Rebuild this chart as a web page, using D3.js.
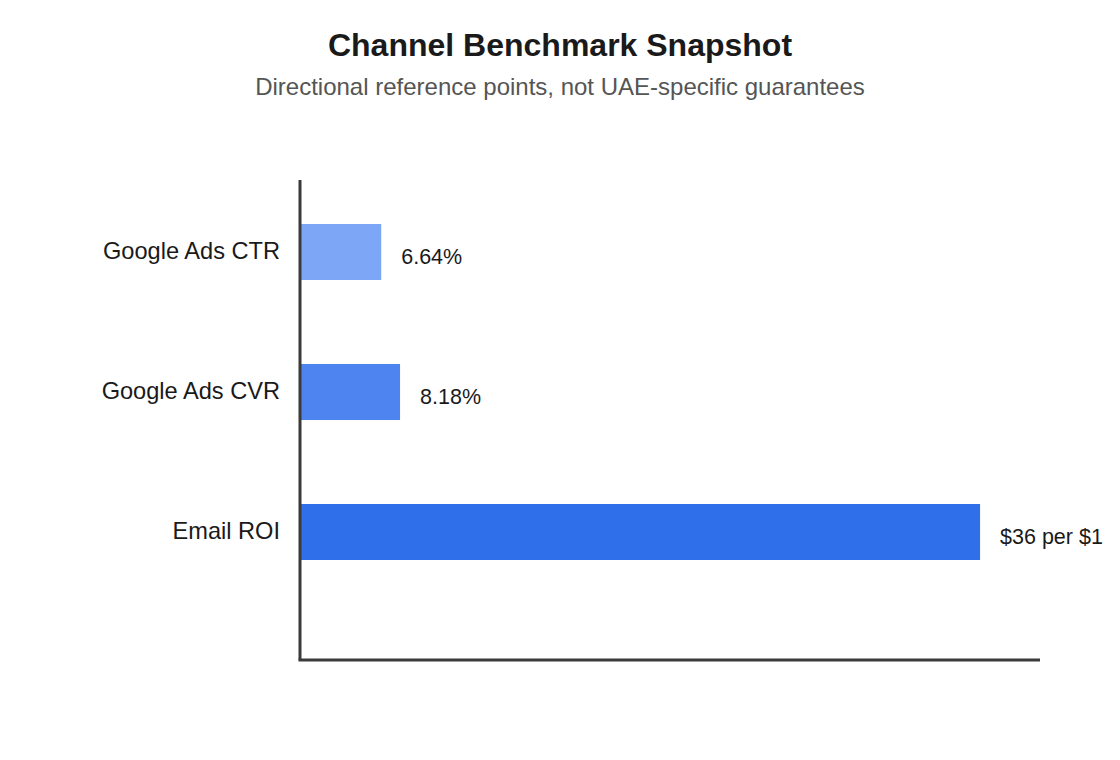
<!DOCTYPE html>
<html>
<head>
<meta charset="utf-8">
<script src="https://cdn.jsdelivr.net/npm/d3@7"></script>
<style>
  body { margin: 0; background: #fff; }
  svg { display: block; font-family: "Liberation Sans", Arial, sans-serif; }
</style>
</head>
<body>
<div id="chart"></div>
<script>
// data (bar lengths are the plotted magnitudes)
var categories = ["Google Ads CTR", "Google Ads CVR", "Email ROI"];
var values = [6.64, 8.18, 55.6];
var valueLabels = ["6.64%", "8.18%", "$36 per $1"];
var colors = ["#7ea6f6", "#4d84ef", "#2f6fea"];

var W = 1120, H = 760;
var margin = {top: 180, right: 80, bottom: 100, left: 300},
    width = W - margin.left - margin.right,
    height = H - margin.top - margin.bottom;

var svg = d3.select("#chart")
    .append("svg")
        .attr("width", W)
        .attr("height", H);

svg.append("text")
    .attr("x", W / 2)
    .attr("y", 56)
    .attr("text-anchor", "middle")
    .style("font-size", "32px")
    .style("font-weight", "bold")
    .style("fill", "#1a1a1a")
    .text("Channel Benchmark Snapshot");

svg.append("text")
    .attr("x", W / 2)
    .attr("y", 95)
    .attr("text-anchor", "middle")
    .style("font-size", "24px")
    .style("fill", "#555")
    .text("Directional reference points, not UAE-specific guarantees");

var g = svg.append("g")
    .attr("transform", "translate(" + margin.left + "," + margin.top + ")");

var x = d3.scaleLinear()
    .domain([0, 60.5])
    .range([0, width]);

var y = d3.scaleBand()
    .domain(categories)
    .range([2, 422])
    .paddingInner(0.6)
    .paddingOuter(0.3);

// category labels
var yAxis = g.append("g")
    .call(d3.axisLeft(y).tickSize(0).tickPadding(20));
yAxis.select(".domain").remove();
yAxis.selectAll("text")
    .attr("dy", "0.3em")
    .style("font-size", "23.6px")
    .style("font-family", "Liberation Sans, Arial, sans-serif")
    .style("fill", "#1a1a1a");

var rows = categories.map(function(c, i) {
    return {cat: c, value: values[i], label: valueLabels[i], color: colors[i]};
});

g.selectAll("rect.bar")
    .data(rows)
    .enter().append("rect")
        .attr("class", "bar")
        .attr("x", x(0))
        .attr("y", function(d) { return y(d.cat); })
        .attr("width", function(d) { return x(d.value) - x(0); })
        .attr("height", y.bandwidth())
        .attr("fill", function(d) { return d.color; });

g.selectAll("text.val")
    .data(rows)
    .enter().append("text")
        .attr("class", "val")
        .attr("x", function(d) { return x(d.value) + 20; })
        .attr("y", function(d) { return y(d.cat) + y.bandwidth() / 2 + 5; })
        .attr("dy", "0.33em")
        .style("font-size", "21.5px")
        .style("fill", "#1a1a1a")
        .text(function(d) { return d.label; });

// axis lines
g.append("line")
    .attr("x1", 0).attr("x2", 0)
    .attr("y1", 0).attr("y2", height)
    .attr("stroke", "#3a3a3a")
    .attr("stroke-width", 3);

g.append("line")
    .attr("x1", -1.5).attr("x2", width)
    .attr("y1", height).attr("y2", height)
    .attr("stroke", "#3a3a3a")
    .attr("stroke-width", 3);
</script>
</body>
</html>
